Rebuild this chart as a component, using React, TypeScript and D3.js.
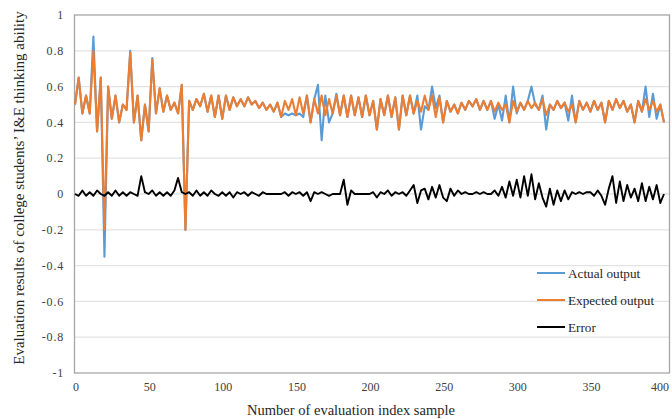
import React from "react";
import * as d3 from "d3";

const expected: number[] = [
  0.50,0.65,0.45,0.55,0.45,0.80,0.35,0.65,-0.20,0.60,
  0.42,0.55,0.40,0.50,0.47,0.79,0.40,0.55,0.30,0.50,
  0.35,0.75,0.45,0.59,0.46,0.55,0.47,0.51,0.45,0.61,
  -0.20,0.52,0.47,0.53,0.49,0.56,0.46,0.55,0.43,0.55,
  0.42,0.55,0.47,0.54,0.49,0.53,0.49,0.54,0.50,0.52,
  0.48,0.51,0.47,0.50,0.46,0.51,0.43,0.52,0.47,0.53,
  0.44,0.54,0.45,0.55,0.40,0.53,0.45,0.55,0.44,0.53,
  0.45,0.55,0.44,0.55,0.43,0.55,0.44,0.54,0.43,0.55,
  0.44,0.52,0.36,0.53,0.44,0.55,0.43,0.54,0.36,0.55,
  0.44,0.55,0.45,0.52,0.46,0.55,0.47,0.55,0.43,0.54,
  0.40,0.52,0.46,0.50,0.45,0.51,0.47,0.52,0.49,0.53,
  0.47,0.52,0.47,0.52,0.46,0.51,0.47,0.50,0.40,0.52,
  0.46,0.51,0.47,0.52,0.48,0.51,0.47,0.53,0.44,0.50,
  0.47,0.52,0.48,0.51,0.46,0.50,0.40,0.52,0.47,0.51,
  0.46,0.52,0.47,0.51,0.40,0.52,0.47,0.53,0.48,0.52,
  0.46,0.50,0.40,0.52,0.46,0.53,0.47,0.52,0.46,0.50,
  0.40,
];

const actual: number[] = [
  0.50,0.65,0.45,0.55,0.45,0.88,0.35,0.65,-0.35,0.60,
  0.42,0.55,0.40,0.50,0.47,0.80,0.40,0.55,0.30,0.50,
  0.35,0.76,0.45,0.59,0.46,0.55,0.47,0.51,0.45,0.61,
  -0.20,0.52,0.47,0.53,0.49,0.56,0.46,0.55,0.43,0.55,
  0.42,0.55,0.47,0.54,0.49,0.53,0.49,0.54,0.50,0.52,
  0.48,0.51,0.47,0.50,0.46,0.51,0.43,0.45,0.44,0.45,
  0.44,0.45,0.43,0.55,0.40,0.53,0.61,0.30,0.55,0.40,
  0.45,0.56,0.44,0.55,0.43,0.55,0.44,0.54,0.43,0.55,
  0.44,0.52,0.36,0.53,0.44,0.55,0.43,0.54,0.36,0.55,
  0.44,0.55,0.45,0.55,0.36,0.49,0.47,0.60,0.48,0.55,
  0.40,0.52,0.46,0.50,0.45,0.51,0.47,0.52,0.49,0.53,
  0.47,0.52,0.47,0.52,0.42,0.50,0.41,0.55,0.40,0.60,
  0.45,0.51,0.47,0.52,0.60,0.50,0.47,0.55,0.36,0.50,
  0.47,0.52,0.48,0.51,0.41,0.55,0.40,0.52,0.47,0.51,
  0.46,0.52,0.47,0.51,0.40,0.52,0.47,0.53,0.48,0.52,
  0.46,0.50,0.40,0.52,0.46,0.60,0.43,0.56,0.42,0.50,
  0.40,
];

const errorVals: number[] = [
  0,-0.01,0.02,-0.01,0.01,-0.01,0.02,0,-0.01,0.01,
  -0.01,0.02,-0.01,0.01,-0.01,0.01,0,-0.01,0.10,0.01,
  0,0.02,-0.01,0.01,-0.01,0.01,-0.01,0.02,0.09,0.01,
  0,0.01,-0.01,0.02,-0.01,0.01,-0.01,0.02,0,-0.01,
  0.01,-0.01,0.01,-0.02,0.01,0,0.01,-0.01,0.01,0,
  -0.01,0.01,0,0,0,0,0,0.01,-0.01,0.01,
  0,0.01,-0.01,0.01,-0.04,0.01,0,0.01,0,-0.01,
  0,0,0,0.08,-0.06,0.02,0,0,0,0,
  0,0.01,-0.02,0.01,0,0.02,-0.01,0.01,0,0.01,
  -0.01,0.02,0.05,-0.05,0.02,0.03,-0.03,0.04,-0.02,0.05,
  -0.02,-0.04,0.03,-0.01,0.02,0,0.01,0,0,0.01,
  0,0.01,0,0,0.02,-0.01,0.04,-0.02,0.07,-0.01,
  0.08,-0.02,0.10,-0.01,0.11,-0.03,0.06,-0.02,-0.07,0.03,
  -0.06,0.02,-0.04,0.02,-0.03,0.01,0,0.01,0,0.01,
  0.01,-0.01,0.02,-0.01,-0.06,0.03,0.10,-0.05,0.07,-0.04,
  0.05,-0.02,0.03,-0.04,0.06,-0.04,0.04,-0.03,0.05,-0.05,
  0,
];

const sampleStep = 2.5;
const xTicks: number[] = [0, 50, 100, 150, 200, 250, 300, 350, 400];
const yTicks: number[] = [-1, -0.8, -0.6, -0.4, -0.2, 0, 0.2, 0.4, 0.6, 0.8, 1];
const seriesNames: string[] = ["Actual output", "Expected output", "Error"];
const seriesColors: string[] = ["#5B9BD5", "#ED7D31", "#000000"];

const FONT = '"Liberation Serif", "Times New Roman", Times, serif';

export default function App() {
  const W = 672, H = 419;
  const x = d3.scaleLinear().domain([0, 400]).range([75, 664]);
  const y = d3.scaleLinear().domain([-1, 1]).range([373, 15]);
  const line = d3
    .line<number>()
    .x((_, i) => x(i * sampleStep))
    .y((d) => y(d));
  const series = [actual, expected, errorVals];
  const fmt = (v: number) => (v === 0 ? "0" : Math.abs(v) === 1 ? String(v) : v.toFixed(1));
  const ts = { fontFamily: FONT };

  return (
    <svg
      width={W}
      height={H}
      style={{ position: "absolute", left: 0, top: 0, background: "#fff", fontFamily: FONT }}
    >
      <rect x={0} y={0} width={W} height={H} fill="#fff" />
      {yTicks
        .filter((t) => t > -1 && t < 1)
        .map((t) => (
          <line key={"g" + t} x1={74} x2={669} y1={y(t)} y2={y(t)} stroke="#e3e3e3" strokeWidth={1.3} />
        ))}
      <rect x={74.5} y={15} width={595} height={358} fill="none" stroke="#a6a6a6" strokeWidth={1.3} />
      {yTicks.map((t) => (
        <text key={"yl" + t} x={64} y={y(t)} dy="0.35em" textAnchor="end" fontSize={12} letterSpacing={0.8} fill="#404040" style={ts}>
          {fmt(t)}
        </text>
      ))}
      {xTicks.map((t) => (
        <text key={"xl" + t} x={Math.min(x(t) + 1, 660)} y={391} textAnchor="middle" fontSize={12} fill="#404040" style={ts}>
          {t}
        </text>
      ))}
      {series.map((s, k) => (
        <path
          key={"s" + k}
          d={line(s) || ""}
          fill="none"
          stroke={seriesColors[k]}
          strokeWidth={k === 2 ? 1.9 : 2.1}
          strokeLinejoin="round"
        />
      ))}
      <text x={351} y={415} textAnchor="middle" fontSize={14.5} fill="#262626" style={ts}>
        Number of evaluation index sample
      </text>
      <text
        transform="translate(24,188) rotate(-90)"
        textAnchor="middle"
        fontSize={15}
        fill="#262626"
        style={ts}
      >
        Evaluation results of college students’ I&amp;E thinking ability
      </text>
      {seriesNames.map((n, k) => (
        <g key={"lg" + k} transform={`translate(537,${273 + k * 27})`}>
          <line x1={0} x2={28} y1={0} y2={0} stroke={seriesColors[k]} strokeWidth={2} />
          <text x={31} y={0} dy="0.35em" fontSize={13.2} fill="#262626" style={ts}>
            {n}
          </text>
        </g>
      ))}
    </svg>
  );
}
